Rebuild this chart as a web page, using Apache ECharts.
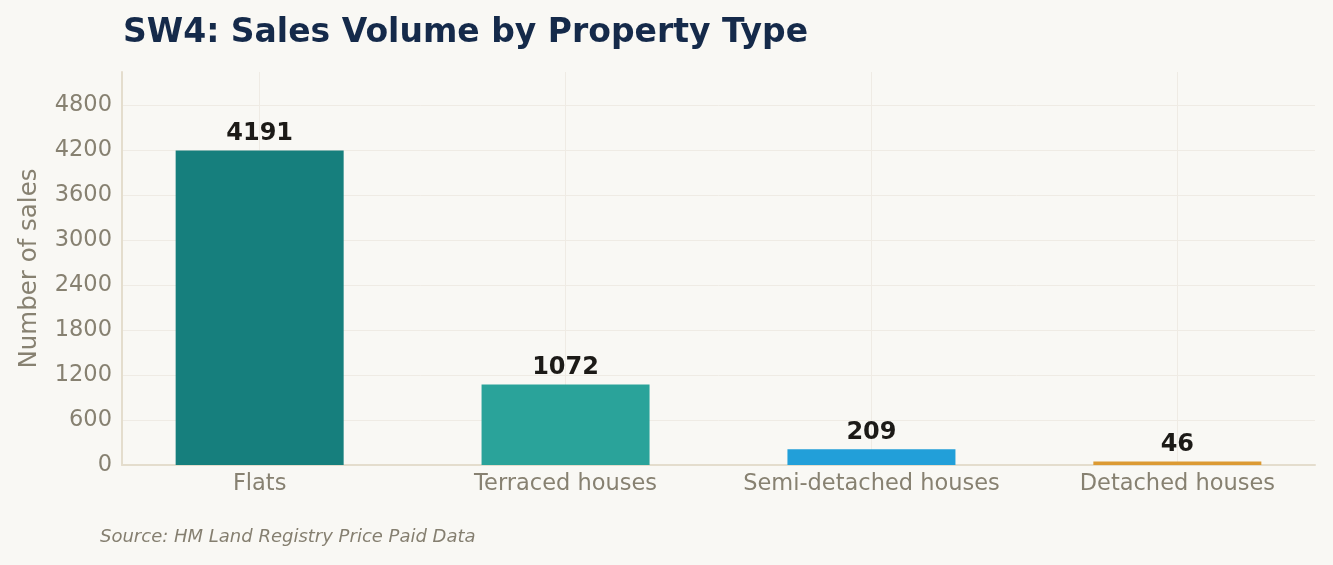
<!DOCTYPE html>
<html>
<head>
<meta charset="utf-8">
<script src="https://cdn.jsdelivr.net/npm/echarts@6/dist/echarts.min.js"></script>
<style>
  html, body { margin: 0; padding: 0; background: #f9f8f4; }
  #container { width: 1333px; height: 565px; }
</style>
</head>
<body>
<div id="container"></div>
<script>
var categories = ['Flats', 'Terraced houses', 'Semi-detached houses', 'Detached houses'];
var sales = [4191, 1072, 209, 46];
var barColors = ['#167f7d', '#2aa39a', '#229fd9', '#dc9a33'];
var yTicks = [0, 600, 1200, 1800, 2400, 3000, 3600, 4200, 4800];

var myChart = echarts.init(document.getElementById('container'));
var positions = categories.map(function (c, i) { return i; });
var FONT = 'DejaVu Sans';

var option = {
    backgroundColor: '#f9f8f4',
    animation: false,
    textStyle: { fontFamily: FONT },
    title: {
        text: 'SW4: Sales Volume by Property Type',
        left: 118, top: 12,
        textStyle: { fontSize: 33, fontWeight: 'bold', color: '#152a4a', fontFamily: FONT }
    },
    graphic: [{
        type: 'text', left: 100, top: 528,
        style: { text: 'Source: HM Land Registry Price Paid Data', fontSize: 18, fontStyle: 'italic',
                 fill: '#857f70', fontFamily: FONT }
    }],
    grid: { left: 122, right: 18, top: 72, bottom: 100 },
    xAxis: {
        type: 'value',
        min: -0.45, max: 3.45,
        axisLine: { show: true, onZero: false, lineStyle: { color: '#e4ddcd', width: 2 } },
        axisTick: { show: false, customValues: positions },
        axisLabel: {
            customValues: positions,
            color: '#878171', fontSize: 22.5, margin: 8, fontFamily: FONT,
            formatter: function (v) { return categories[Math.round(v)]; }
        },
        splitLine: { show: true, lineStyle: { color: '#efebe4', width: 1 } }
    },
    yAxis: {
        type: 'value',
        min: 0, max: 4191 * 1.25,
        name: 'Number of sales',
        nameLocation: 'middle', nameGap: 80,
        nameTextStyle: { color: '#878171', fontSize: 24.5, fontFamily: FONT },
        axisLine: { show: true, onZero: false, lineStyle: { color: '#e4ddcd', width: 2 } },
        axisTick: { show: false, customValues: yTicks },
        axisLabel: {
            customValues: yTicks, color: '#878171', fontSize: 22.5, margin: 10, fontFamily: FONT,
            verticalAlign: 'middle', padding: [3, 0, 0, 0],
            formatter: function (v) { return String(v); }
        },
        splitLine: { show: true, lineStyle: { color: '#efebe4', width: 1 } }
    },
    series: [{
        type: 'bar',
        barWidth: 168,
        data: sales.map(function (v, i) {
            return { value: [i, v], itemStyle: { color: barColors[i] } };
        }),
        label: {
            show: true, position: 'top', distance: 5,
            formatter: function (p) { return p.value[1]; },
            color: '#1c1a17', fontSize: 24, fontWeight: 'bold', fontFamily: FONT
        }
    }]
};
myChart.setOption(option);
</script>
</body>
</html>
